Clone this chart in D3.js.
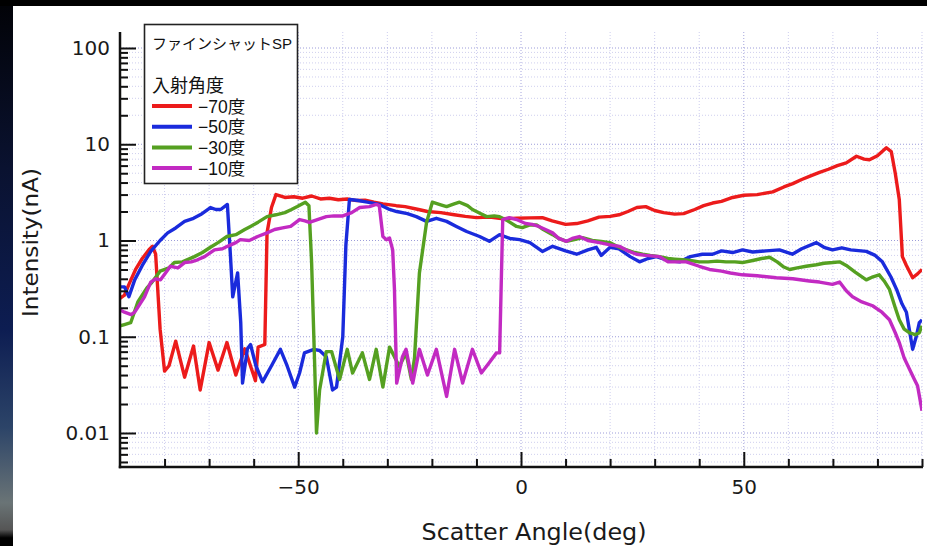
<!DOCTYPE html>
<html lang="ja">
<head>
<meta charset="UTF-8">
<title>Scatter Angle vs Intensity</title>
<script src="https://d3js.org/d3.v7.min.js"></script>
<style>
  html, body { margin: 0; padding: 0; background: #000; }
  svg { display: block; }
  .axis text { font-family: 'DejaVu Sans', sans-serif; font-size: 20px; fill: #1a1a1a; }
  .axis line { stroke: #111; stroke-width: 2; }
  .legend text { font-family: 'Liberation Sans', 'Noto Sans CJK JP', sans-serif; fill: #111; }
</style>
</head>
<body>
<svg id="chart" width="927" height="546"></svg>
<script>
// incident angle series: [scatter angle (deg), intensity (nA)]
const red70 = [
  [-90,0.25],[-89,0.27],[-88,0.35],[-86.5,0.5],[-85,0.65],[-83.5,0.8],[-82.7,0.87],[-82,0.72],[-81,0.12],
  [-80,0.044],[-79,0.05],[-77.5,0.09],[-75.5,0.038],[-73.5,0.08],[-72,0.028],[-70,0.087],[-68,0.045],
  [-66,0.087],[-64,0.04],[-62,0.075],[-59.6,0.035],[-59,0.078],[-57.5,0.083],[-57,1.2],[-56,2.2],[-55,3.0],
  [-53,2.8],[-51,2.85],[-49,2.75],[-47,2.9],[-45,2.7],[-43,2.75],[-41,2.65],[-39,2.7],[-36.9,2.6],[-35,2.62],
  [-33,2.5],[-31,2.4],[-28,2.3],[-26,2.25],[-23,2.1],[-21,2.0],[-18,1.95],[-15,1.85],[-12.5,1.78],[-10,1.73],
  [-7,1.75],[-4,1.68],[-1,1.7],[2,1.72],[4.8,1.73],[7,1.6],[10,1.47],[12.5,1.5],[15,1.6],[17.5,1.75],[20,1.78],
  [22,1.85],[24,2.0],[26,2.2],[28,2.25],[30,2.05],[32,1.95],[34.5,1.88],[36.5,1.9],[39,2.1],[41,2.3],[43,2.45],
  [45,2.55],[47.5,2.8],[50,2.95],[53,3.0],[56.5,3.2],[59,3.6],[61,3.9],[63,4.3],[65,4.7],[67,5.1],[69,5.5],
  [71,6.0],[73,6.4],[75.3,7.5],[77,7.0],[78.2,6.9],[80,7.6],[82,9.2],[83.1,8.4],[84,5.0],[84.9,2.67],
  [85.6,0.68],[86.5,0.55],[87.9,0.41],[89,0.45],[90,0.5]
];
const blue50 = [
  [-90,0.33],[-89,0.33],[-88,0.26],[-86.7,0.39],[-85,0.55],[-83.1,0.77],[-81,1.0],[-79.3,1.2],[-77.5,1.35],
  [-75.5,1.58],[-73.5,1.7],[-71.9,1.86],[-69.7,2.2],[-68.5,2.1],[-67.4,2.1],[-65.9,2.37],[-65.2,0.68],
  [-64.7,0.26],[-63.6,0.46],[-62.9,0.14],[-62.5,0.033],[-61.4,0.075],[-60.7,0.083],[-59.5,0.05],[-58,0.034],
  [-56,0.05],[-54,0.074],[-52.5,0.05],[-50.8,0.03],[-49.7,0.042],[-48.6,0.068],[-46.5,0.074],[-45.2,0.072],
  [-43.7,0.062],[-42.3,0.028],[-41.4,0.03],[-40,0.1],[-39.3,0.9],[-38.5,2.67],[-36.9,2.62],[-34.5,2.5],
  [-31.8,2.37],[-29.5,2.1],[-27.9,2.0],[-25.5,1.9],[-23.5,1.77],[-21.2,1.58],[-19,1.7],[-16.7,1.58],
  [-14.5,1.4],[-12.2,1.24],[-9.3,1.1],[-7.1,0.98],[-4.8,1.15],[-2.5,1.05],[-0.3,1.02],[2,0.95],[4.8,0.77],
  [7.1,0.87],[10,0.78],[12.5,0.72],[15,0.8],[16.9,0.85],[18,0.7],[20,0.85],[22,0.82],[24.5,0.68],[26.6,0.6],
  [28.5,0.65],[30.4,0.68],[33,0.62],[35.6,0.6],[38,0.68],[40.7,0.72],[43,0.72],[45,0.78],[47.5,0.75],
  [49.7,0.8],[52,0.76],[55,0.78],[58,0.8],[60.9,0.72],[63,0.82],[66.3,0.95],[68,0.85],[69.9,0.8],[72,0.84],
  [74,0.8],[77.5,0.77],[79.5,0.7],[81.1,0.6],[83,0.42],[84.3,0.31],[85.5,0.22],[86.5,0.18],[87.9,0.074],
  [88.7,0.1],[89.4,0.14],[90,0.15]
];
const green30 = [
  [-90,0.13],[-89,0.134],[-87.6,0.14],[-86,0.23],[-84,0.32],[-83,0.36],[-81,0.48],[-79,0.52],[-77.8,0.59],
  [-76,0.6],[-73.3,0.68],[-71.5,0.75],[-69.7,0.85],[-68,0.95],[-66,1.1],[-64,1.15],[-62,1.3],[-60.7,1.4],
  [-59,1.55],[-57,1.77],[-55,1.85],[-53,1.95],[-51.5,2.1],[-50.2,2.25],[-48.4,2.5],[-47.6,2.3],[-47,0.6],
  [-46.3,0.05],[-45.9,0.01],[-45.2,0.028],[-43.7,0.07],[-42.5,0.07],[-40.7,0.036],[-39,0.074],[-37.8,0.042],
  [-35.6,0.068],[-34,0.036],[-32.5,0.074],[-31,0.03],[-29.5,0.078],[-27.3,0.049],[-25.8,0.068],[-24.6,0.036],
  [-23.9,0.06],[-22.8,0.46],[-21.2,1.54],[-19.9,2.5],[-18,2.35],[-16.7,2.25],[-15,2.4],[-13.8,2.5],[-12,2.3],
  [-10.9,2.1],[-9,1.9],[-7.7,1.77],[-6,1.8],[-4.8,1.77],[-3,1.6],[-1,1.4],[0.3,1.36],[2,1.45],[3.5,1.45],
  [5,1.3],[7.1,1.15],[8.5,1.05],[10.2,0.98],[12,1.02],[13.8,1.07],[16,1.0],[18,0.98],[19.9,0.95],[22,0.85],
  [23.7,0.8],[25.5,0.75],[27.3,0.72],[29,0.7],[31.1,0.68],[33,0.65],[34.5,0.64],[36.2,0.63],[38,0.62],
  [40,0.6],[42,0.6],[44,0.61],[46,0.6],[48,0.6],[49.7,0.59],[52,0.62],[54,0.65],[55.8,0.67],[57.5,0.6],
  [59,0.53],[60.3,0.5],[62,0.52],[64,0.54],[66.3,0.56],[68,0.58],[70,0.59],[71.5,0.6],[73,0.55],[75,0.47],
  [77.5,0.39],[79,0.42],[80.4,0.44],[81.5,0.38],[82.7,0.31],[84,0.2],[84.9,0.15],[86,0.12],[87.2,0.11],
  [88.5,0.105],[89.4,0.11],[90,0.13]
];
const magenta10 = [
  [-90,0.19],[-89,0.18],[-87.5,0.17],[-86.7,0.18],[-85.5,0.22],[-84.5,0.26],[-83.1,0.37],[-82,0.4],[-80.9,0.39],
  [-79.5,0.48],[-78.7,0.54],[-77,0.52],[-75.5,0.59],[-74,0.6],[-72.6,0.63],[-71,0.68],[-68.8,0.8],[-67,0.82],
  [-65.9,0.87],[-64,0.95],[-63,1.02],[-61,1.0],[-59.1,1.1],[-57,1.2],[-55.3,1.3],[-53.5,1.35],[-51.7,1.4],
  [-49.7,1.65],[-48.5,1.6],[-47.5,1.54],[-45.7,1.65],[-43.7,1.77],[-42,1.8],[-40,1.8],[-38,1.95],[-36.2,2.2],
  [-34,2.25],[-32.5,2.37],[-31.8,2.3],[-31,1.1],[-30.2,1.02],[-29.5,1.06],[-28.8,0.8],[-28.4,0.31],
  [-27.9,0.033],[-26.6,0.062],[-25.8,0.074],[-24.3,0.033],[-22.8,0.074],[-21,0.04],[-19,0.074],[-16.7,0.024],
  [-14.9,0.074],[-13.1,0.033],[-10.9,0.074],[-8.9,0.042],[-7.1,0.054],[-5.5,0.068],[-4.8,0.068],[-4.1,1.65],
  [-2.6,1.73],[-1,1.65],[1,1.5],[2.5,1.47],[4,1.4],[5.5,1.3],[7.1,1.2],[8.5,1.05],[10.2,0.98],[11.5,1.05],
  [13.1,1.1],[15,1.0],[17.6,0.95],[20,0.9],[22.1,0.87],[24,0.78],[25.9,0.72],[28,0.7],[31.1,0.68],[33,0.6],
  [35,0.6],[37.1,0.6],[40,0.54],[42.3,0.5],[45,0.48],[47,0.46],[49.7,0.44],[53,0.43],[57.3,0.41],[61,0.4],
  [64.7,0.38],[67,0.37],[69.9,0.35],[71.5,0.37],[73,0.3],[74.4,0.26],[76.5,0.23],[78.9,0.21],[81,0.18],
  [82.7,0.15],[84,0.11],[84.9,0.087],[86,0.06],[87.2,0.046],[88.3,0.036],[89,0.031],[90,0.017]
];

const seriesNames = ['−70度', '−50度', '−30度', '−10度'];
const seriesColors = ['#ec1b1b', '#1a2bdc', '#55a021', '#c22ac2'];
const xTickValues = [-80, -70, -60, -50, -40, -30, -20, -10, 0, 10, 20, 30, 40, 50, 60, 70, 80, 90];
const xLabelValues = [-50, 0, 50];
const yMajorValues = [0.01, 0.1, 1, 10, 100];
const yMajorLabels = ['0.01', '0.1', '1', '10', '100'];
const legendTitle = 'ファインシャットSP';
const legendHeader = '入射角度';

const svg = d3.select('#chart');
const W = 927, H = 546;
const plot = { left: 120, right: 922, top: 32, bottom: 467 };

// background: dark photo edge + white panel
const defs = svg.append('defs');
const grad = defs.append('linearGradient').attr('id', 'edge').attr('x1', 0).attr('y1', 0).attr('x2', 0).attr('y2', 1);
[['0%', '#020308'], ['30%', '#0a1230'], ['60%', '#0d1d52'], ['78%', '#2c4468'], ['92%', '#6a7476'], ['97%', '#555'], ['98.5%', '#000']]
  .forEach(s => grad.append('stop').attr('offset', s[0]).attr('stop-color', s[1]));
svg.append('rect').attr('width', W).attr('height', H).attr('fill', '#000');
svg.append('rect').attr('x', 0).attr('y', 6).attr('width', 13).attr('height', H - 6).attr('fill', 'url(#edge)');
svg.append('rect').attr('x', 13).attr('y', 6).attr('width', W - 13).attr('height', H - 6).attr('fill', '#fff');

const x = d3.scaleLinear().domain([-90, 90]).range([120, 922]);
const y = d3.scaleLog().domain([0.01, 100]).range([433, 48]);

// minor log ticks (2..9 per decade) inside the plot
const yMinorValues = [];
[0.001, 0.01, 0.1, 1, 10].forEach(d => {
  for (let k = 2; k <= 9; k++) {
    const v = d * k;
    if (y(v) <= plot.bottom && y(v) >= plot.top) yMinorValues.push(v);
  }
});

// grid
const grid = svg.append('g');
grid.selectAll('.gx').data(xTickValues).enter().append('line')
  .attr('x1', d => x(d)).attr('x2', d => x(d))
  .attr('y1', plot.top).attr('y2', plot.bottom)
  .attr('stroke', d => d % 50 === 0 ? '#a4a4dc' : '#cdcdee')
  .attr('stroke-width', 1).attr('stroke-dasharray', '1,2');
grid.selectAll('.gy').data(yMinorValues.concat(yMajorValues)).enter().append('line')
  .attr('x1', plot.left).attr('x2', plot.right)
  .attr('y1', d => y(d)).attr('y2', d => y(d))
  .attr('stroke', d => yMajorValues.includes(d) ? '#9c9cda' : '#cfcfee')
  .attr('stroke-width', 1).attr('stroke-dasharray', '1,2');

// lines
defs.append('clipPath').attr('id', 'clip').append('rect')
  .attr('x', plot.left).attr('y', plot.top)
  .attr('width', plot.right - plot.left).attr('height', plot.bottom - plot.top);
const line = d3.line().x(d => x(d[0])).y(d => y(d[1]));
const series = [red70, blue50, green30, magenta10];
svg.append('g').attr('clip-path', 'url(#clip)')
  .selectAll('path').data(series).enter().append('path')
  .attr('d', line)
  .attr('fill', 'none')
  .attr('stroke', (d, i) => seriesColors[i])
  .attr('stroke-width', 3.4)
  .attr('stroke-linejoin', 'round');

// y axis
const yAxisMinor = svg.append('g').attr('class', 'axis').attr('transform', `translate(${plot.left},0)`)
  .call(d3.axisLeft(y).tickValues(yMinorValues).tickSize(-8).tickFormat(''));
const yAxisMajor = svg.append('g').attr('class', 'axis').attr('transform', `translate(${plot.left},0)`)
  .call(d3.axisLeft(y).tickValues(yMajorValues).tickSize(-16).tickPadding(10)
    .tickFormat((d, i) => yMajorLabels[i]));
yAxisMinor.select('.domain').remove();
yAxisMajor.select('.domain').remove();

// x axis
const xAxisMinor = svg.append('g').attr('class', 'axis').attr('transform', `translate(0,${plot.bottom})`)
  .call(d3.axisBottom(x).tickValues(xTickValues.filter(d => !xLabelValues.includes(d))).tickSize(-8).tickFormat(''));
const xAxisMajor = svg.append('g').attr('class', 'axis').attr('transform', `translate(0,${plot.bottom})`)
  .call(d3.axisBottom(x).tickValues(xLabelValues).tickSize(-15).tickPadding(13)
    .tickFormat(d => d < 0 ? '−' + Math.abs(d) : String(d)));
xAxisMinor.select('.domain').remove();
xAxisMajor.select('.domain').remove();

svg.append('line').attr('x1', plot.left).attr('x2', plot.left).attr('y1', plot.top).attr('y2', plot.bottom + 1.2)
  .attr('stroke', '#111').attr('stroke-width', 2.5);
svg.append('line').attr('x1', plot.left - 1.2).attr('x2', plot.right + 1).attr('y1', plot.bottom).attr('y2', plot.bottom)
  .attr('stroke', '#111').attr('stroke-width', 2.5);

// axis titles
svg.append('text')
  .attr('transform', 'translate(38,242.5) rotate(-90)')
  .attr('text-anchor', 'middle')
  .attr('textLength', 149).attr('lengthAdjust', 'spacingAndGlyphs')
  .style('font-family', "'DejaVu Sans', sans-serif").style('font-size', '22px').style('fill', '#1a1a1a')
  .text('Intensity(nA)');
svg.append('text')
  .attr('x', 534).attr('y', 540)
  .attr('text-anchor', 'middle')
  .attr('textLength', 225).attr('lengthAdjust', 'spacingAndGlyphs')
  .style('font-family', "'DejaVu Sans', sans-serif").style('font-size', '23px').style('fill', '#1a1a1a')
  .text('Scatter Angle(deg)');

// legend
const legend = svg.append('g').attr('class', 'legend');
legend.append('rect').attr('x', 144.5).attr('y', 24.5).attr('width', 153).attr('height', 159)
  .attr('fill', '#fff').attr('stroke', '#222').attr('stroke-width', 1.6);
legend.append('text').attr('x', 152).attr('y', 48.7)
  .style('font-size', '15px').text(legendTitle);
legend.append('text').attr('x', 152).attr('y', 92)
  .style('font-size', '18px').text(legendHeader);
const entries = legend.selectAll('.entry').data(seriesNames).enter().append('g')
  .attr('transform', (d, i) => `translate(0,${106 + i * 20.7})`);
entries.append('line').attr('x1', 152).attr('x2', 192).attr('y1', 0).attr('y2', 0)
  .attr('stroke', (d, i) => seriesColors[i]).attr('stroke-width', 4);
entries.append('text').attr('x', 198).attr('y', 6.6)
  .style('font-size', '17.5px').text(d => d);
</script>
</body>
</html>
